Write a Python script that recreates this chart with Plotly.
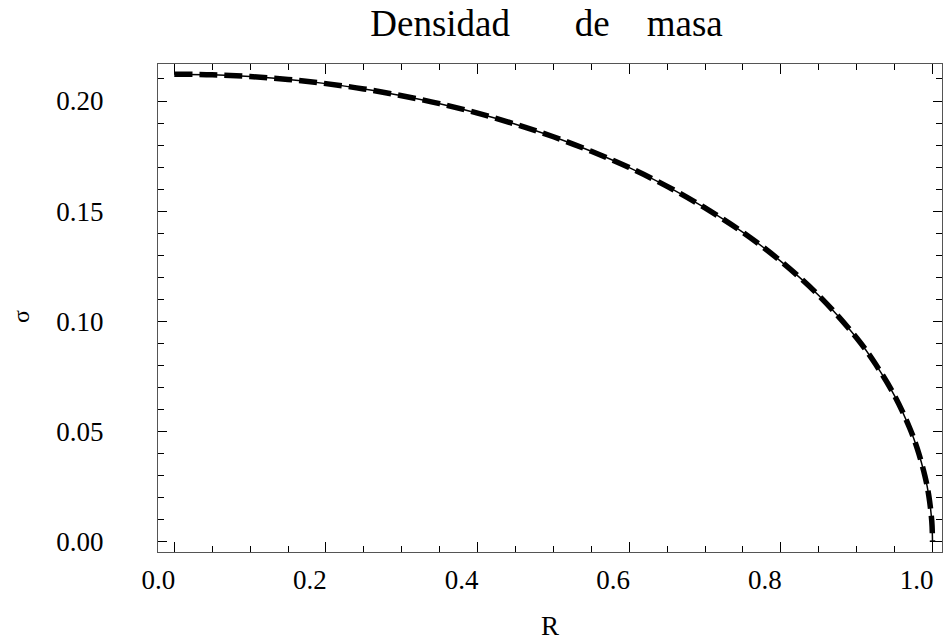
import plotly.graph_objects as go

# Values
R_vals = [0.0, 0.05, 0.1, 0.15, 0.2, 0.25, 0.3, 0.35, 0.4, 0.45, 0.5, 0.55, 0.6,
          0.65, 0.7, 0.75, 0.8, 0.85, 0.9, 0.925, 0.95, 0.97, 0.98, 0.99, 0.995,
          0.999, 1.0]
sigma_vals = [0.2122, 0.2119, 0.2111, 0.2098, 0.2079, 0.2055, 0.2024, 0.1988,
              0.1945, 0.1895, 0.1838, 0.1772, 0.1698, 0.1613, 0.1515, 0.1404,
              0.1273, 0.1118, 0.0925, 0.0806, 0.0663, 0.0516, 0.0422, 0.0299,
              0.0212, 0.0095, 0.0]

x_ticks = [0.0, 0.2, 0.4, 0.6, 0.8, 1.0]
x_tick_text = ["0.0", "0.2", "0.4", "0.6", "0.8", "1.0"]
y_ticks = [0.00, 0.05, 0.10, 0.15, 0.20]
y_tick_text = ["0.00", "0.05", "0.10", "0.15", "0.20"]

title_text = "Densidad" + "\u00a0" * 7 + "de" + "\u00a0" * 4 + "masa"

FONT = "Liberation Serif, Times New Roman, serif"

fig = go.Figure()
fig.add_trace(go.Scatter(x=R_vals, y=sigma_vals, mode="lines",
                         line=dict(color="black", width=1.5, shape="spline"),
                         hoverinfo="skip", showlegend=False))
fig.add_trace(go.Scatter(x=R_vals, y=sigma_vals, mode="lines",
                         line=dict(color="black", width=5.5, dash="18px,7px", shape="spline"),
                         hoverinfo="skip", showlegend=False))

axis_common = dict(
    showgrid=False, zeroline=False, showline=True, linecolor="#555555", linewidth=1,
    mirror="allticks", ticks="inside", tickcolor="black", tickwidth=1,
    tickfont=dict(family=FONT, size=27, color="black"),
)

fig.update_xaxes(
    **axis_common,
    range=[-0.0215, 1.0125],
    tickvals=x_ticks, ticktext=x_tick_text, ticklen=10,
    minor=dict(dtick=0.05, tick0=0, ticks="inside", ticklen=6, tickcolor="black", tickwidth=1),
    ticklabelshift=-16, ticklabelstandoff=4,
    title=dict(text="R", font=dict(family=FONT, size=27, color="black"), standoff=22),
)
fig.update_yaxes(
    **axis_common,
    range=[-0.00454, 0.2168],
    tickvals=y_ticks, ticktext=y_tick_text, ticklen=9,
    minor=dict(dtick=0.01, tick0=0, ticks="inside", ticklen=6, tickcolor="black", tickwidth=1),
    ticklabelstandoff=48,
)

fig.add_annotation(text="σ", xref="paper", yref="paper",
                   x=(21 - 158) / 784, y=(552 - 317) / 488,
                   xanchor="center", yanchor="middle", textangle=-90, showarrow=False,
                   font=dict(family=FONT, size=24, color="black"))

fig.update_layout(
    width=943, height=641,
    margin=dict(l=158, r=1, t=64, b=89),
    paper_bgcolor="white", plot_bgcolor="white",
    title=dict(text=title_text, font=dict(family=FONT, size=37, color="black"),
               xref="container", x=546.5 / 943, xanchor="center",
               yref="container", y=1 - 10 / 641, yanchor="top"),
)

fig.write_html("out.html", config={"displayModeBar": False},
               post_script="document.body.style.margin='0';document.body.style.overflow='hidden';")
